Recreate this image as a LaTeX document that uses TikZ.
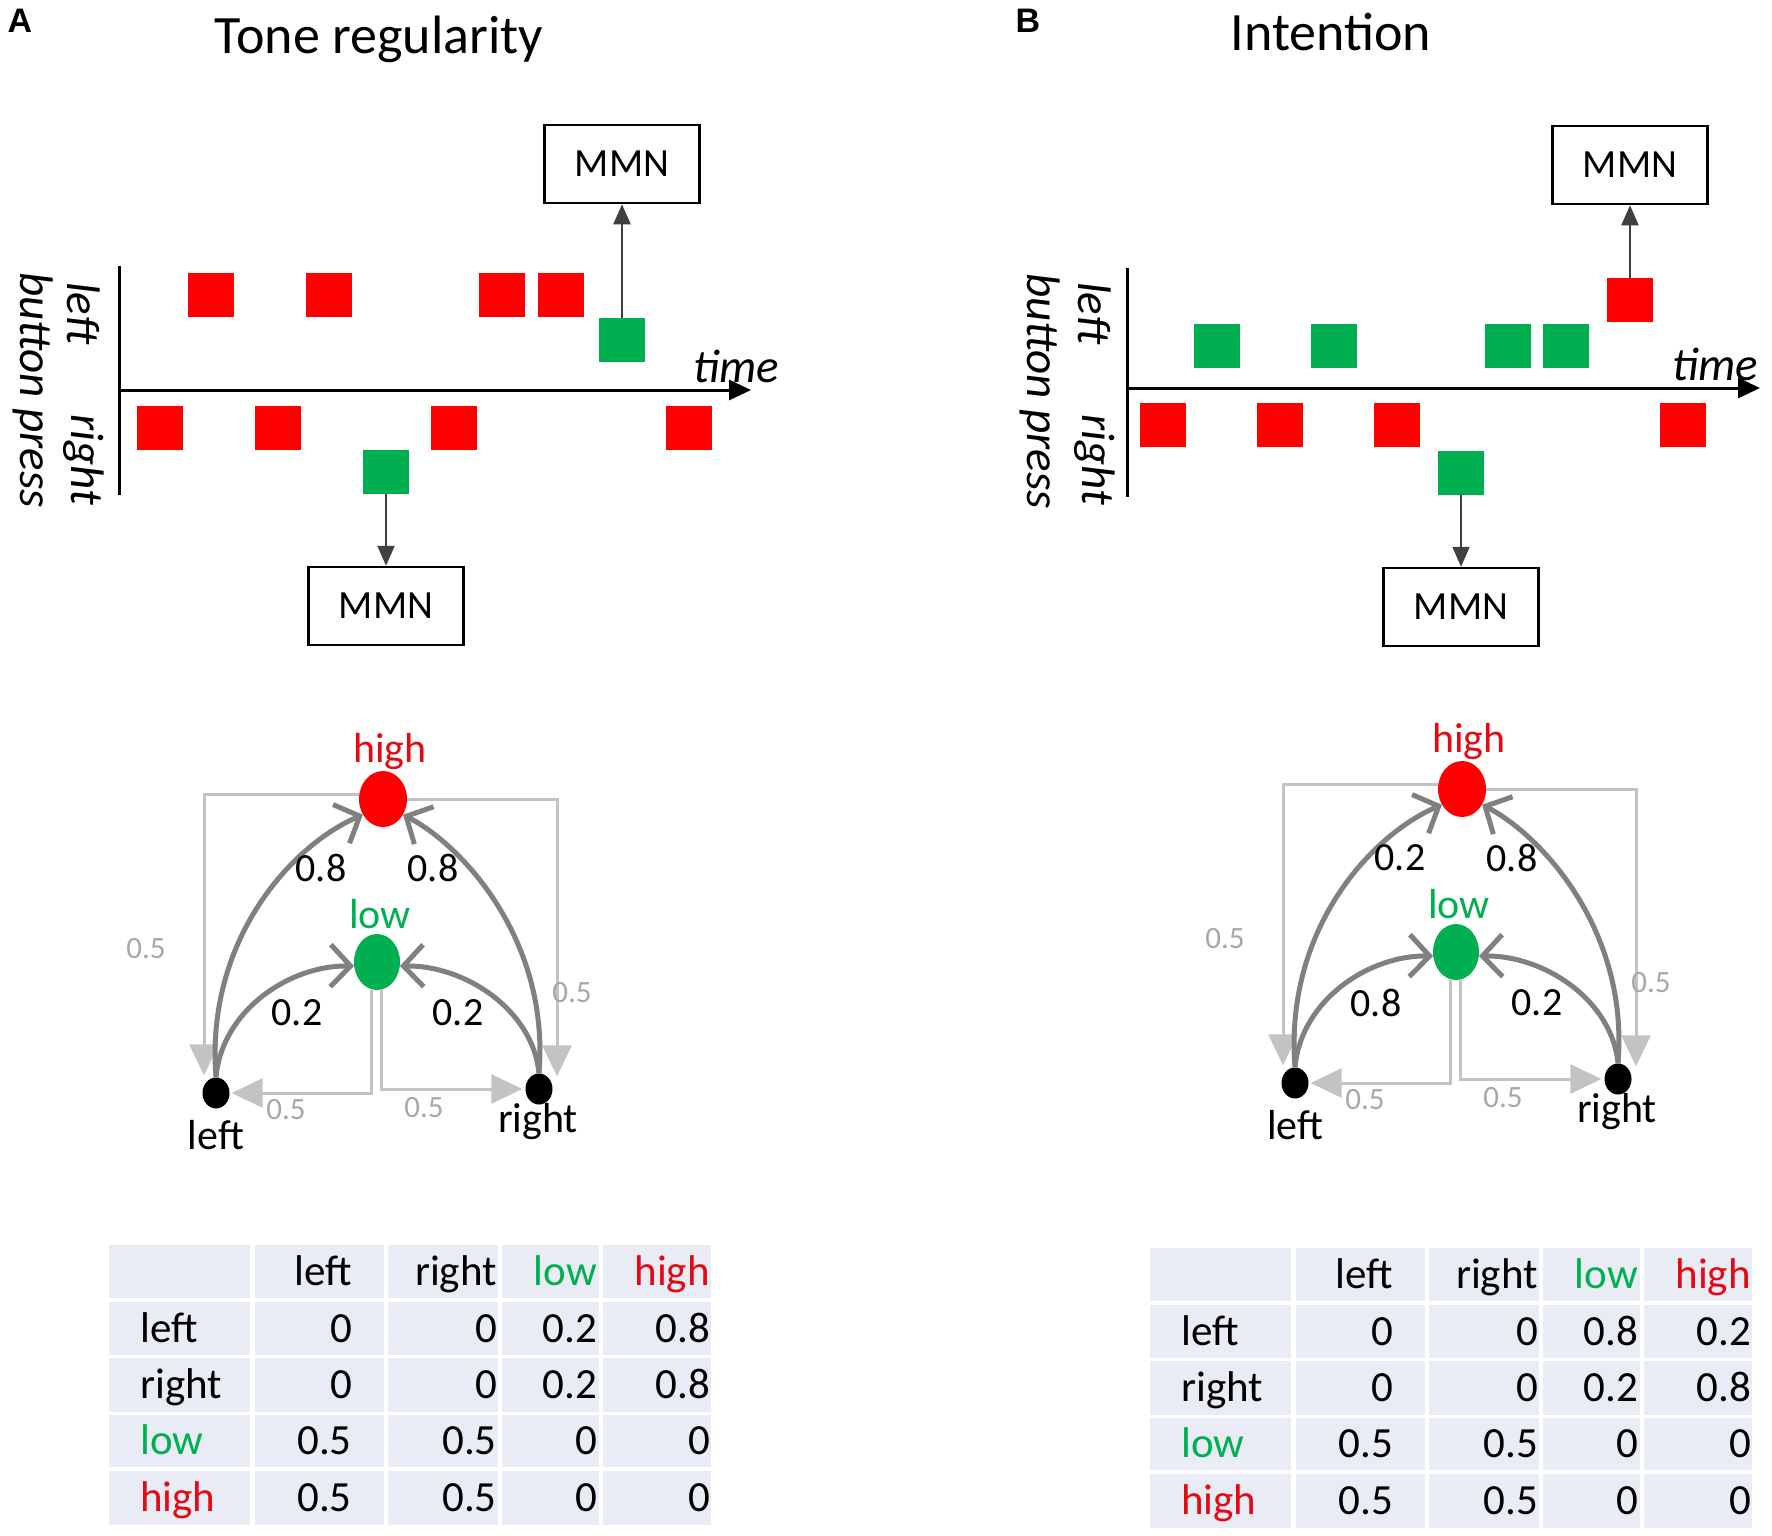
\documentclass[tikz,border=0pt]{standalone}
\usepackage{fontspec}
\setmainfont{Carlito}
\newfontfamily\panelfont{Liberation Sans}
\usetikzlibrary{arrows.meta,shapes.geometric}
\definecolor{sqred}{RGB}{255,0,0}
\definecolor{sqgreen}{RGB}{0,176,80}
\definecolor{txtred}{RGB}{228,10,20}
\definecolor{darkarc}{RGB}{128,128,128}
\definecolor{lightarc}{RGB}{195,195,195}
\definecolor{lightlab}{RGB}{168,168,168}
\definecolor{cellbg}{RGB}{233,235,245}
\definecolor{mmnarrow}{RGB}{64,64,64}
\tikzset{
  sq/.style={rectangle,minimum width=46pt,minimum height=44pt,inner sep=0pt,draw=none},
  rsq/.style={sq,fill=sqred},
  gsq/.style={sq,fill=sqgreen},
  mmnbox/.style={draw=black,line width=2.5pt,fill=white,minimum width=155pt,minimum height=78pt,inner sep=0pt,font=\fontsize{40}{48}\selectfont},
  mmnarr/.style={draw=mmnarrow,line width=2pt,-{Triangle[length=20pt,width=17pt]}},
  vaxis/.style={line width=3pt,black},
  taxis/.style={line width=3pt,black,-{Triangle[length=22pt,width=20pt]}},
  rotlab/.style={rotate=-90,font=\fontsize{47}{50}\selectfont\itshape,inner sep=0pt},
  timelab/.style={font=\fontsize{47}{50}\selectfont\itshape,inner sep=0pt},
  title/.style={font=\fontsize{54}{60}\selectfont,inner sep=0pt},
  paneltag/.style={inner sep=0pt,font=\fontsize{34}{38}\selectfont\panelfont\bfseries},
  hnode/.style={ellipse,fill=sqred,minimum width=48pt,minimum height=56pt,inner sep=0pt},
  lnode/.style={ellipse,fill=sqgreen,minimum width=46pt,minimum height=56pt,inner sep=0pt},
  dotn/.style={ellipse,fill=black,minimum width=27pt,minimum height=31pt,inner sep=0pt},
  darc/.style={draw=darkarc,line width=5pt,-{Straight Barb[length=20pt,width=42pt]}},
  larc/.style={draw=lightarc,line width=3pt,-{Triangle[length=31pt,width=29pt]}},
  dlab/.style={font=\fontsize{40}{44}\selectfont,inner sep=0pt},
  llab/.style={font=\fontsize{31}{34}\selectfont,text=lightlab,inner sep=0pt},
  glab/.style={font=\fontsize{42}{46}\selectfont,inner sep=0pt},
  tl/.style={anchor=base west,inner sep=0pt,font=\fontsize{43}{46}\selectfont},
  tn/.style={anchor=base east,inner sep=0pt,font=\fontsize{43}{46}\selectfont},
}
\newcommand{\mkgraph}[5]{%
  \node[hnode] (#1h) at (383,799) {};
  \node[lnode] (#1l) at (377,962) {};
  \node[dotn] (#1L) at (216,1093) {};
  \node[dotn] (#1R) at (539,1089) {};
  \draw[larc] ([yshift=5pt]#1h.west) -| ([xshift=-12pt,yshift=2pt]#1L.north);
  \draw[larc] (#1h.east) -| ([xshift=18pt,yshift=-3pt]#1R.north);
  \draw[larc] ([xshift=-6pt]#1l.south) |- ([xshift=2pt]#1L.east);
  \draw[larc] ([xshift=4pt]#1l.south) |- ([xshift=-3pt]#1R.west);
  \draw[darc] (#1L.north) .. controls (205,940) and (292,845) .. (#1h.218);
  \draw[darc] (#1R.north) .. controls (550,940) and (462,845) .. (#1h.322);
  \draw[darc] (#1L.north) .. controls (222,1010) and (290,965) .. (#1l.190);
  \draw[darc] (#1R.north) .. controls (533,1010) and (465,965) .. (#1l.350);
  \node[glab,text=txtred] (#1ht) at (390,752) {high};
  \node[glab,text=sqgreen] (#1lt) at (380,914) {low};
  \node[glab] (#1Lt) at (216,1135) {left};
  \node[glab] (#1Rt) at (538,1122) {right};
  \node[dlab] (#1a) at (321,868) {#2};
  \node[dlab] (#1b) at (433,868) {#3};
  \node[dlab] (#1c) at (297,1013) {#4};
  \node[dlab] (#1d) at (458,1013) {#5};
  \node[llab] (#1e) at (146,949) {0.5};
  \node[llab] (#1f) at (572,993) {0.5};
  \node[llab] (#1g) at (286,1110) {0.5};
  \node[llab] (#1k) at (424,1108) {0.5};
}
\newcommand{\mktable}[3]{%
  \foreach \xa/\xb in {109/250,255/384,388/498,502/599,603/711}{%
    \foreach \ya/\yb in {1245/1298,1302/1355,1358/1412,1415/1467,1471/1525}{%
      \fill[cellbg] (\xa,\ya) rectangle (\xb,\yb);}}
  \node[tn] (#1h1) at (352,1285) {left};
  \node[tn] (#1h2) at (497,1285) {right};
  \node[tn,text=sqgreen] (#1h3) at (597,1285) {low};
  \node[tn,text=txtred] (#1h4) at (710,1285) {high};
  \node[tl] (#1r1) at (140,1342) {left};
  \node[tl] (#1r2) at (140,1398.5) {right};
  \node[tl,text=sqgreen] (#1r3) at (140,1454.5) {low};
  \node[tl,text=txtred] (#1r4) at (140,1511.5) {high};
  \node[tn] (#1a1) at (352,1342) {0};
  \node[tn] (#1a2) at (497,1342) {0};
  \node[tn] (#1a3) at (597,1342) {#2};
  \node[tn] (#1a4) at (710,1342) {#3};
  \node[tn] (#1b1) at (352,1398.5) {0};
  \node[tn] (#1b2) at (497,1398.5) {0};
  \node[tn] (#1b3) at (597,1398.5) {0.2};
  \node[tn] (#1b4) at (710,1398.5) {0.8};
  \node[tn] (#1c1) at (352,1454.5) {0.5};
  \node[tn] (#1c2) at (497,1454.5) {0.5};
  \node[tn] (#1c3) at (597,1454.5) {0};
  \node[tn] (#1c4) at (710,1454.5) {0};
  \node[tn] (#1d1) at (352,1511.5) {0.5};
  \node[tn] (#1d2) at (497,1511.5) {0.5};
  \node[tn] (#1d3) at (597,1511.5) {0};
  \node[tn] (#1d4) at (710,1511.5) {0};
}
\begin{document}
\begin{tikzpicture}[x=1pt,y=-1pt]
\fill[white] (0,0) rectangle (1772,1535);
\useasboundingbox (0,0) rectangle (1772,1535);
% ---------- Panel A ----------
\node[paneltag] (pA) at (20,21) {A};
\node[title] (tiA) at (379,39) {Tone regularity};
\draw[vaxis] (119,266) -- (119,495);
\draw[taxis] (119,390) -- (751,390);
\node[timelab] (timeA) at (736,366) {time};
\node[rotlab] (leftA) at (84,313) {left};
\node[rotlab] (rightA) at (84,460) {right};
\node[rotlab] (bpA) at (33,390) {button press};
\node[rsq] (a1) at (211,295) {};
\node[rsq] (a2) at (329,295) {};
\node[rsq] (a3) at (502,295) {};
\node[rsq] (a4) at (561,295) {};
\node[gsq] (a5) at (622,340) {};
\node[rsq] (b1) at (160,428) {};
\node[rsq] (b2) at (278,428) {};
\node[rsq] (b3) at (454,428) {};
\node[rsq] (b4) at (689,428) {};
\node[gsq] (b5) at (386,472) {};
\node[mmnbox] (mA1) at (622,164) {MMN};
\node[mmnbox] (mA2) at (386,606) {MMN};
\draw[mmnarr] (a5.north) -- (mA1.south);
\draw[mmnarr] (b5.south) -- (mA2.north);
\mkgraph{gA}{0.8}{0.8}{0.2}{0.2}
\mktable{tA}{0.2}{0.8}
% ---------- Panel B ----------
\node[paneltag] (pB) at (1028,21) {B};
\node[title] (tiB) at (1331,32) {Intention};
\draw[vaxis] (1127,268) -- (1127,497);
\draw[taxis] (1127,388) -- (1760,388);
\node[timelab] (timeB) at (1715,364) {time};
\node[rotlab] (leftB) at (1095,313) {left};
\node[rotlab] (rightB) at (1095,460) {right};
\node[rotlab] (bpB) at (1040,391) {button press};
\node[gsq] (c1) at (1217,346) {};
\node[gsq] (c2) at (1334,346) {};
\node[gsq] (c3) at (1508,346) {};
\node[gsq] (c4) at (1566,346) {};
\node[rsq] (c5) at (1630,300) {};
\node[rsq] (d1) at (1163,425) {};
\node[rsq] (d2) at (1280,425) {};
\node[rsq] (d3) at (1397,425) {};
\node[rsq] (d4) at (1683,425) {};
\node[gsq] (d5) at (1461,473) {};
\node[mmnbox] (mB1) at (1630,165) {MMN};
\node[mmnbox] (mB2) at (1461,607) {MMN};
\draw[mmnarr] (c5.north) -- (mB1.south);
\draw[mmnarr] (d5.south) -- (mB2.north);
\begin{scope}[shift={(1079,-10)}]
\mkgraph{gB}{0.2}{0.8}{0.8}{0.2}
\end{scope}
\begin{scope}[shift={(1041,3)}]
\mktable{tB}{0.8}{0.2}
\end{scope}
\end{tikzpicture}
\end{document}
